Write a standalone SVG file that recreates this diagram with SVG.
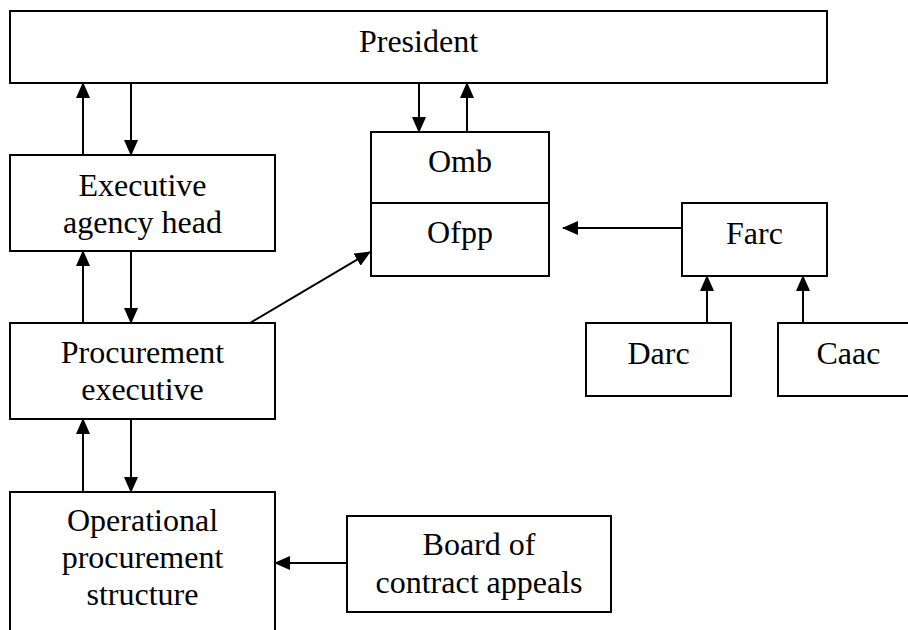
<svg xmlns="http://www.w3.org/2000/svg" width="908" height="630" viewBox="0 0 908 630">
  <defs>
    <marker id="arr" markerUnits="userSpaceOnUse" markerWidth="16" markerHeight="14" viewBox="0 0 16 14" refX="15" refY="7" orient="auto">
      <path d="M0,0 L16,7 L0,14 z" fill="#000"/>
    </marker>
  </defs>
  <style>
    rect { fill: #fff; stroke: #000; stroke-width: 2; }
    line { stroke: #000; stroke-width: 2; }
    .c line { marker-end: url(#arr); }
    text { font-family: 'Liberation Serif', 'DejaVu Serif', serif; font-size: 32px; fill: #000; text-anchor: middle; }
  </style>
  <rect x="0" y="0" width="908" height="630" style="fill:#fff;stroke:none"/>

  <g id="president">
    <rect x="10" y="11" width="817" height="72"/>
    <text x="418.5" y="52" font-family="Liberation Serif, serif">President</text>
  </g>
  <g id="exec-agency-head">
    <rect x="10" y="155" width="265" height="96"/>
    <text x="142.5" y="196">Executive</text>
    <text x="142.5" y="233">agency head</text>
  </g>
  <g id="omb-ofpp">
    <rect x="371" y="132" width="178" height="144"/>
    <line x1="371" y1="203" x2="549" y2="203"/>
    <text x="460" y="172">Omb</text>
    <text x="460" y="243">Ofpp</text>
  </g>
  <g id="farc">
    <rect x="682" y="203" width="145" height="73"/>
    <text x="754.5" y="244">Farc</text>
  </g>
  <g id="darc">
    <rect x="586" y="323" width="145" height="73"/>
    <text x="658.5" y="364">Darc</text>
  </g>
  <g id="caac">
    <rect x="778" y="323" width="142" height="73"/>
    <text x="848.5" y="364">Caac</text>
  </g>
  <g id="procurement-executive">
    <rect x="10" y="323" width="265" height="96"/>
    <text x="142.5" y="363">Procurement</text>
    <text x="142.5" y="400">executive</text>
  </g>
  <g id="operational-procurement-structure">
    <rect x="10" y="492" width="265" height="160"/>
    <text x="142.5" y="531">Operational</text>
    <text x="142.5" y="568">procurement</text>
    <text x="142.5" y="605">structure</text>
  </g>
  <g id="board-of-contract-appeals">
    <rect x="347" y="516" width="264" height="96"/>
    <text x="479" y="555">Board of</text>
    <text x="479" y="593">contract appeals</text>
  </g>

  <g id="connectors" class="c">
    <line x1="83" y1="155" x2="83" y2="83"/>
    <line x1="131" y1="83" x2="131" y2="155"/>
    <line x1="419" y1="83" x2="419" y2="132"/>
    <line x1="467" y1="132" x2="467" y2="83"/>
    <line x1="83" y1="323" x2="83" y2="251"/>
    <line x1="131" y1="251" x2="131" y2="323"/>
    <line x1="83" y1="492" x2="83" y2="419"/>
    <line x1="131" y1="419" x2="131" y2="492"/>
    <line x1="250" y1="323" x2="370" y2="252"/>
    <line x1="682" y1="228" x2="563" y2="228"/>
    <line x1="707" y1="323" x2="707" y2="276"/>
    <line x1="803" y1="323" x2="803" y2="276"/>
    <line x1="347" y1="563" x2="275" y2="563"/>
  </g>
</svg>
